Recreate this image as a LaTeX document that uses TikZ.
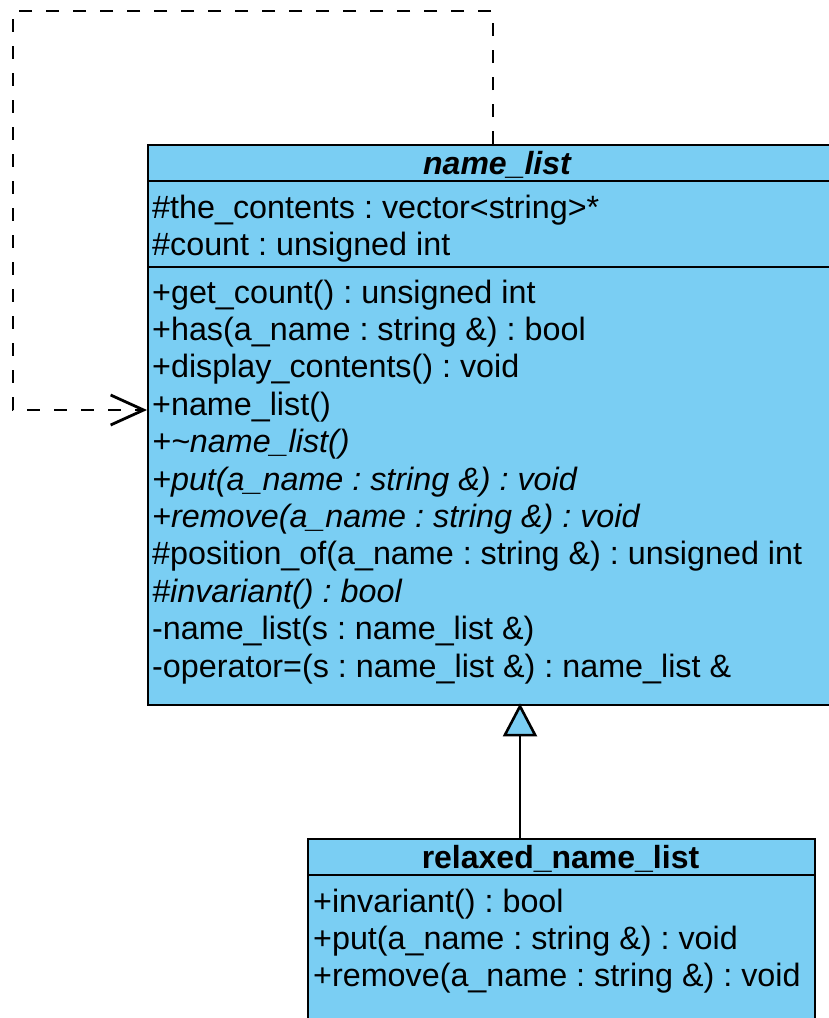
\documentclass[tikz,border=0pt]{standalone}
\usepackage{fontspec}
\setmainfont{Liberation Sans}
\usetikzlibrary{arrows.meta,calc}
\definecolor{umlblue}{RGB}{122,206,243}
\frenchspacing
\begin{document}
\begin{tikzpicture}[x=1pt,y=-1pt,
  classbox/.style={draw=black,fill=umlblue,line width=2.4pt,inner sep=0pt},
  sepline/.style={draw=black,line width=2.4pt},
  txt/.style={anchor=base west,inner sep=0pt,font=\fontsize{32.3}{37}\selectfont},
  ttl/.style={anchor=base,inner sep=0pt,font=\fontsize{32}{37}\selectfont\bfseries},
  dep/.style={draw=black,line width=2.8pt,dash pattern=on 13pt off 14pt,
    -{Straight Barb[length=33pt,width=30pt,line width=2.8pt]}},
  inh/.style={draw=black,line width=2.6pt,shorten >=-3pt,
    -{Triangle[open,length=33pt,width=34pt,fill=umlblue,line width=2.6pt]}}
]
\useasboundingbox (0,0) rectangle (829,1018);
\clip (0,0) rectangle (829,1018);

% name_list class
\node[classbox,anchor=north west,minimum width=700pt,minimum height=560pt] (nl) at (147,144) {};
\draw[sepline] (147,181) -- (847,181);
\draw[sepline] (147,267) -- (847,267);
\node[ttl] (nlt) at (497,174) {\itshape name\_list};
\node[txt] (a1) at (152,218) {\#the\_contents : vector<string>*};
\node[txt] (a2) at (152,255.4) {\#count : unsigned int};
\node[txt] (o1) at (152,303) {+get\_count() : unsigned int};
\node[txt] (o2) at (152,340.4) {+has(a\_name : string \&) : bool};
\node[txt] (o3) at (152,377.8) {+display\_contents() : void};
\node[txt] (o4) at (152,415.2) {+name\_list()};
\node[txt] (o5) at (152,452.6) {\itshape +\textasciitilde name\_list()};
\node[txt] (o6) at (152,490) {\itshape +put(a\_name : string \&) : void};
\node[txt] (o7) at (152,527.4) {\itshape +remove(a\_name : string \&) : void};
\node[txt] (o8) at (152,564.8) {\#position\_of(a\_name : string \&) : unsigned int};
\node[txt] (o9) at (152,602.2) {\itshape \#invariant() : bool};
\node[txt] (o10) at (152,639.6) {-name\_list(s : name\_list \&)};
\node[txt] (o11) at (152,677) {-operator=(s : name\_list \&) : name\_list \&};

% relaxed_name_list class
\node[classbox,anchor=north west,minimum width=507pt,minimum height=240pt] (rnl) at (307,838) {};
\draw[sepline] (307,875) -- (814,875);
\node[ttl] (rnlt) at (560.5,868) {relaxed\_name\_list};
\node[txt] (r1) at (313,912) {+invariant() : bool};
\node[txt] (r2) at (313,949.4) {+put(a\_name : string \&) : void};
\node[txt] (r3) at (313,986.8) {+remove(a\_name : string \&) : void};

% dependency (self)
\coordinate (c1) at (493,11);
\coordinate (c2) at (13,11);
\coordinate (c3) at (13,410);
\draw[dep] (nl.north -| c1) -- (c1) -- (c2) -- (c3) -- (c3 -| nl.west);

% generalization
\coordinate (gx) at (520,0);
\draw[inh] (rnl.north -| gx) -- (nl.south -| gx);
\end{tikzpicture}
\end{document}
